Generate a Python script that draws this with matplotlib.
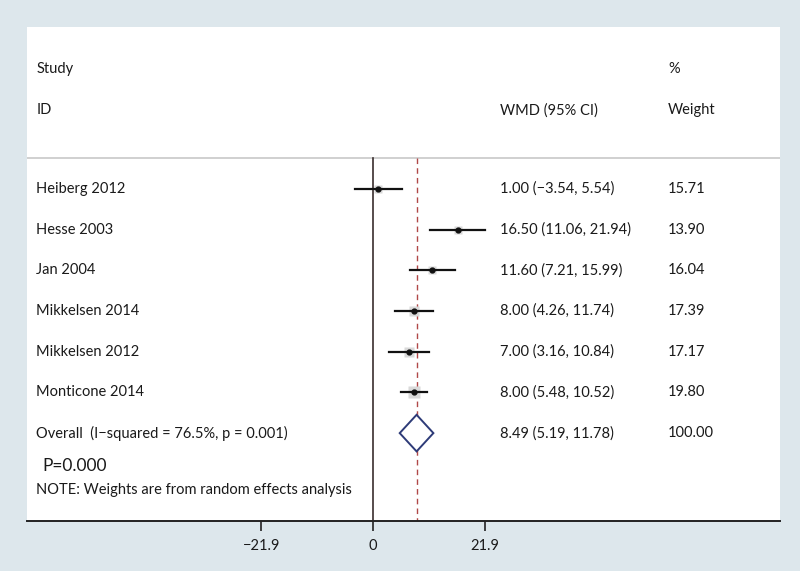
import matplotlib
matplotlib.use("Agg")
import matplotlib.pyplot as plt
import matplotlib.transforms as mtransforms

plt.rcParams['font.family'] = ['Lato', 'DejaVu Sans']

# Data
studies = ["Heiberg 2012", "Hesse 2003", "Jan 2004", "Mikkelsen 2014",
           "Mikkelsen 2012", "Monticone 2014"]
wmd = [1.00, 16.50, 11.60, 8.00, 7.00, 8.00]
lo = [-3.54, 11.06, 7.21, 4.26, 3.16, 5.48]
hi = [5.54, 21.94, 15.99, 11.74, 10.84, 10.52]
weights = [15.71, 13.90, 16.04, 17.39, 17.17, 19.80]
overall = 8.49
overall_lo = 5.19
overall_hi = 11.78
overall_label = "Overall  (I\u2212squared = 76.5%, p = 0.001)"
xticks = [-21.9, 0, 21.9]

bg = "#dde7ec"
fig = plt.figure(figsize=(8, 5.71), dpi=100, facecolor=bg)
ax = fig.add_axes([0.034, 0.0876, 0.941, 0.865])
ax.set_facecolor("white")

ax.set_xlim(-67.7, 79.6)
ax.set_ylim(8.16, -3.98)

fs = 10.5
tc = "#1a1a1a"
trans = mtransforms.blended_transform_factory(ax.transAxes, ax.transData)

# headers
ax.text(0.012, -2.95, "Study", transform=trans, va="center", fontsize=fs, color=tc)
ax.text(0.012, -1.94, "ID", transform=trans, va="center", fontsize=fs, color=tc)
ax.text(24.9, -1.94, "WMD (95% CI)", va="center", fontsize=fs, color=tc)
ax.text(57.7, -2.95, "%", va="center", fontsize=fs, color=tc)
ax.text(57.7, -1.94, "Weight", va="center", fontsize=fs, color=tc)
ax.axhline(-0.76, color="#c8c8c8", lw=1.2)

# reference lines
ax.plot([0, 0], [-0.76, 8.16], color="#3a2e2e", lw=1.2, zorder=2)
ax.plot([overall, overall], [-0.76, 8.16], color="#b04848", lw=1,
        ls=(0, (4, 3)), zorder=2)

# studies
for i, name in enumerate(studies):
    ax.plot([lo[i], hi[i]], [i, i], color="#111111", lw=1.6, zorder=3)
    ax.plot(wmd[i], i, marker="s", color="#d9d9d9", ms=weights[i] * 0.4,
            mec="none", zorder=2.5)
    ax.plot(wmd[i], i, marker="o", color="#111111", ms=3.5, zorder=4)
    ax.text(0.012, i, name, transform=trans, va="center", fontsize=fs, color=tc)
    ax.text(24.9, i, f"{wmd[i]:.2f} ({lo[i]:.2f}, {hi[i]:.2f})".replace("-", "\u2212"),
            va="center", fontsize=fs, color=tc)
    ax.text(57.7, i, f"{weights[i]:.2f}", va="center", fontsize=fs, color=tc)

# overall diamond
r = len(studies)
ax.fill([overall_lo, overall, overall_hi, overall, overall_lo],
        [r, r - 0.45, r, r + 0.45, r], facecolor="white",
        edgecolor="#2e3b78", lw=1.4, zorder=3)
ax.text(0.012, r, overall_label, transform=trans, va="center", fontsize=fs, color=tc)
ax.text(24.9, r, f"{overall:.2f} ({overall_lo:.2f}, {overall_hi:.2f})",
        va="center", fontsize=fs, color=tc)
ax.text(57.7, r, "100.00", va="center", fontsize=fs, color=tc)

ax.text(0.02, r + 0.8, "P=0.000", transform=trans, va="center", fontsize=12.5, color=tc)
ax.text(0.012, r + 1.4, "NOTE: Weights are from random effects analysis",
        transform=trans, va="center", fontsize=fs, color=tc)

# axis
for s in ["top", "left", "right"]:
    ax.spines[s].set_visible(False)
ax.spines["bottom"].set_color("#222222")
ax.spines["bottom"].set_linewidth(1.4)
ax.set_yticks([])
ax.set_xticks(xticks)
ax.set_xticklabels([str(t).replace("-", "\u2212") if t != 0 else "0" for t in xticks],
                   fontsize=fs, color=tc)
ax.tick_params(axis="x", length=7, width=1.2, color="#222222", pad=6)

fig.savefig("out.png", dpi=100, facecolor=bg)
